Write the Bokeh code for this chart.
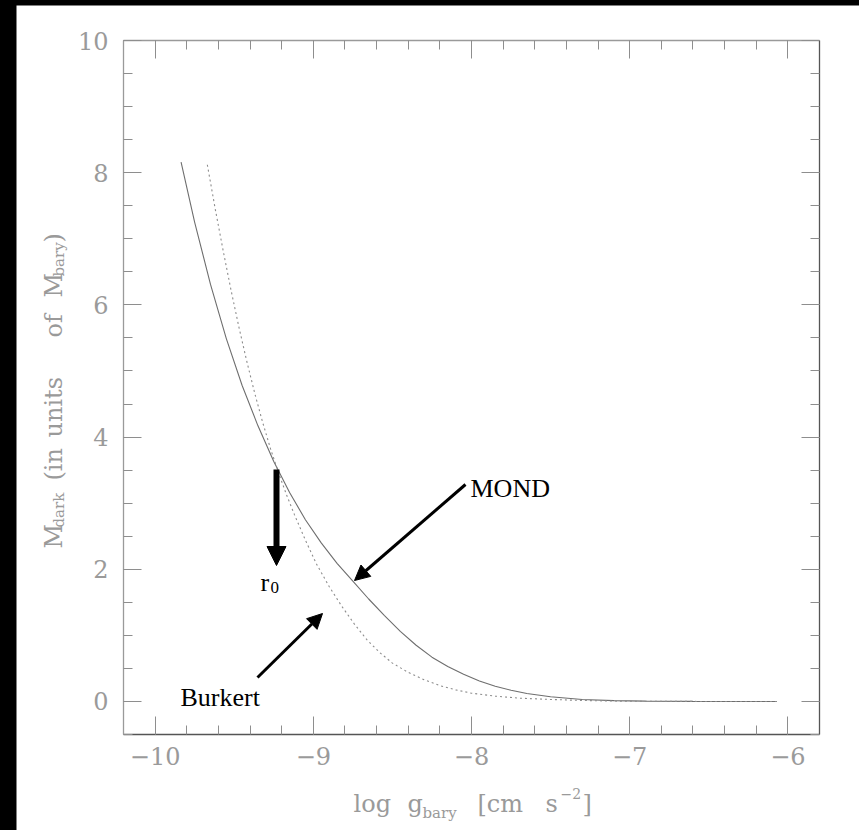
import math
from bokeh.plotting import figure
from bokeh.models import (Range1d, LinearAxis, SingleIntervalTicker, Label, Arrow,
                          NormalHead, CustomJSTickFormatter)
from bokeh.embed import file_html
from bokeh.resources import INLINE

# ---------------- data ----------------
mond_x = [-9.836, -9.75, -9.65, -9.55, -9.45, -9.35, -9.25, -9.15, -9.05, -8.95,
          -8.85, -8.75, -8.65, -8.55, -8.45, -8.35, -8.25, -8.15, -8.05, -7.95,
          -7.85, -7.75, -7.65, -7.50, -7.30, -7.10, -6.90, -6.60, -6.30, -6.07]
mond_y = [8.16, 7.25, 6.31, 5.49, 4.78, 4.17, 3.63, 3.16, 2.75, 2.40,
          2.09, 1.82, 1.55, 1.30, 1.06, 0.85, 0.67, 0.53, 0.41, 0.31,
          0.23, 0.17, 0.12, 0.07, 0.03, 0.012, 0.005, 0.001, 0.0, 0.0]

burkert_x = [-9.67, -9.62, -9.57, -9.52, -9.47, -9.42, -9.37, -9.32, -9.27, -9.22,
             -9.17, -9.12, -9.05, -8.98, -8.90, -8.82, -8.74, -8.66, -8.58, -8.50,
             -8.40, -8.30, -8.20, -8.10, -8.00, -7.85, -7.70, -7.50, -7.30, -7.10,
             -6.90, -6.50, -6.07]
burkert_y = [8.12, 7.45, 6.82, 6.22, 5.66, 5.14, 4.66, 4.22, 3.82, 3.46,
             3.13, 2.83, 2.44, 2.08, 1.74, 1.44, 1.17, 0.93, 0.74, 0.58,
             0.44, 0.33, 0.24, 0.175, 0.125, 0.08, 0.05, 0.03, 0.015, 0.006,
             0.002, 0.0, 0.0]

x_ticks = [-10, -9, -8, -7, -6]
x_tick_labels = ["\u221210", "\u22129", "\u22128", "\u22127", "\u22126"]
y_ticks = [0, 2, 4, 6, 8, 10]
y_tick_labels = ["0", "2", "4", "6", "8", "10"]

# ---------------- geometry (page pixels) ----------------
PX0, PY0 = 16, 5              # where the canvas starts on the page
W, H = 859 - PX0, 830 - PY0   # canvas size
FL, FR, FT, FB = 123, 819, 40, 734   # plot box on the page
BX0, BX1, BY0, BY1 = -10.2, -5.8, -0.5, 10.0   # data extent of the box
sx = (BX1 - BX0) / (FR - FL)
sy = (BY1 - BY0) / (FB - FT)
x_start = BX0 - (FL - PX0) * sx
x_end = BX1 + (PX0 + W - FR) * sx
y_start = BY0 - (PY0 + H - FB) * sy
y_end = BY1 + (FT - PY0) * sy


def px2x(px):
    return BX0 + (px - FL) * sx


def py2y(py):
    return BY0 + (FB - py) * sy


p = figure(width=W, height=H, output_backend="svg", toolbar_location=None,
           x_range=Range1d(x_start, x_end), y_range=Range1d(y_start, y_end),
           min_border=0, min_border_left=0, min_border_right=0,
           min_border_top=0, min_border_bottom=0)
p.outline_line_color = None
p.xgrid.visible = False
p.ygrid.visible = False
p.background_fill_color = "white"
p.border_fill_color = "white"

TICK_COL = "#8e8e8e"
LAB_COL = "#9a9a9a"
TFONT = "DejaVu Serif"


def style_axis(ax, interval, minor, line_color, bounds, loc, labels=None, standoff=10):
    ax.ticker = SingleIntervalTicker(interval=interval, num_minor_ticks=minor)
    ax.bounds = bounds
    ax.fixed_location = loc
    ax.major_tick_in = 18
    ax.major_tick_out = 0
    ax.minor_tick_in = 9
    ax.minor_tick_out = 0
    ax.major_tick_line_color = TICK_COL
    ax.minor_tick_line_color = TICK_COL
    ax.axis_line_color = line_color
    ax.axis_line_width = 1.3
    if labels is None:
        ax.formatter = CustomJSTickFormatter(code="return ''")
    else:
        ax.major_label_overrides = labels
        ax.major_label_text_font = TFONT
        ax.major_label_text_font_size = "24px"
        ax.major_label_text_color = LAB_COL
        ax.major_label_standoff = standoff


style_axis(p.xaxis[0], 1, 5, "#555555", (BX0, BX1), BY0,
           dict(zip(x_ticks, x_tick_labels)), 12)
style_axis(p.yaxis[0], 2, 4, "#9a9a9a", (BY0, BY1), BX0,
           dict(zip(y_ticks, y_tick_labels)), 15)
p.yaxis[0].major_label_orientation = "horizontal"

top = LinearAxis()
style_axis(top, 1, 5, "#9a9a9a", (BX0, BX1), BY1)
p.add_layout(top, "above")
right = LinearAxis()
style_axis(right, 2, 4, "#555555", (BY0, BY1), BX1)
p.add_layout(right, "right")

# ---------------- curves ----------------
p.line(mond_x, mond_y, line_color="#6e6e6e", line_width=1.1)
p.line(burkert_x, burkert_y, line_color="#8c8c8c", line_width=1.1, line_dash="2 3")

# ---------------- annotations ----------------
p.add_layout(Arrow(end=NormalHead(size=15, fill_color="black", line_color="black"),
                   x_start=px2x(465), y_start=py2y(484),
                   x_end=px2x(354), y_end=py2y(580),
                   line_width=3, line_color="black"))
p.add_layout(Arrow(end=NormalHead(size=15, fill_color="black", line_color="black"),
                   x_start=px2x(257), y_start=py2y(677),
                   x_end=px2x(322), y_end=py2y(613),
                   line_width=3, line_color="black"))
p.add_layout(Arrow(end=NormalHead(size=19, fill_color="black", line_color="black"),
                   x_start=px2x(276), y_start=py2y(469),
                   x_end=px2x(276), y_end=py2y(565),
                   line_width=6, line_color="black"))

AFONT = "Liberation Serif"
for txt, xp, yp, fs in [("MOND", 470, 488, 26), ("Burkert", 180, 697, 26),
                        ("r", 260, 582, 26), ("0", 270, 587, 17)]:
    p.add_layout(Label(x=px2x(xp), y=py2y(yp), text=txt, text_font=AFONT,
                       text_font_size=f"{fs}px", text_color="black",
                       text_align="left", text_baseline="alphabetic"))

# x-axis title pieces: log g_bary [cm s^-2]
for txt, xp, yp, fs in [("log", 353, 803, 24), ("g", 407, 803, 24),
                        ("bary", 422, 812, 15), ("[cm", 477, 803, 24),
                        ("s", 545, 803, 24), ("\u22122", 560, 793, 14),
                        ("]", 582, 803, 24)]:
    p.add_layout(Label(x=px2x(xp), y=py2y(yp), text=txt, text_font=TFONT,
                       text_font_size=f"{fs}px", text_color=LAB_COL,
                       text_align="left", text_baseline="alphabetic"))

# y-axis title pieces: M_dark (in units of M_bary)
for txt, xp, yp, fs in [("M", 53, 548, 24), ("dark", 58, 527, 15),
                        ("(in", 53, 480, 24), ("units", 53, 437, 24),
                        ("of", 53, 337, 24), ("M", 53, 297, 24),
                        ("bary", 58, 276, 15), (")", 53, 242, 24)]:
    p.add_layout(Label(x=px2x(xp), y=py2y(yp), text=txt, text_font=TFONT,
                       text_font_size=f"{fs}px", text_color=LAB_COL,
                       angle=math.pi / 2, angle_units="rad",
                       text_align="left", text_baseline="alphabetic"))

html = file_html(p, INLINE)
page_css = ("<style>html,body{margin:0 !important;background:#000000 !important;"
            "overflow:hidden;}body{padding:%dpx 0 0 %dpx !important;}</style>" % (PY0, PX0))
html = html.replace("</head>", page_css + "</head>", 1)
open("out.html", "w").write(html)
